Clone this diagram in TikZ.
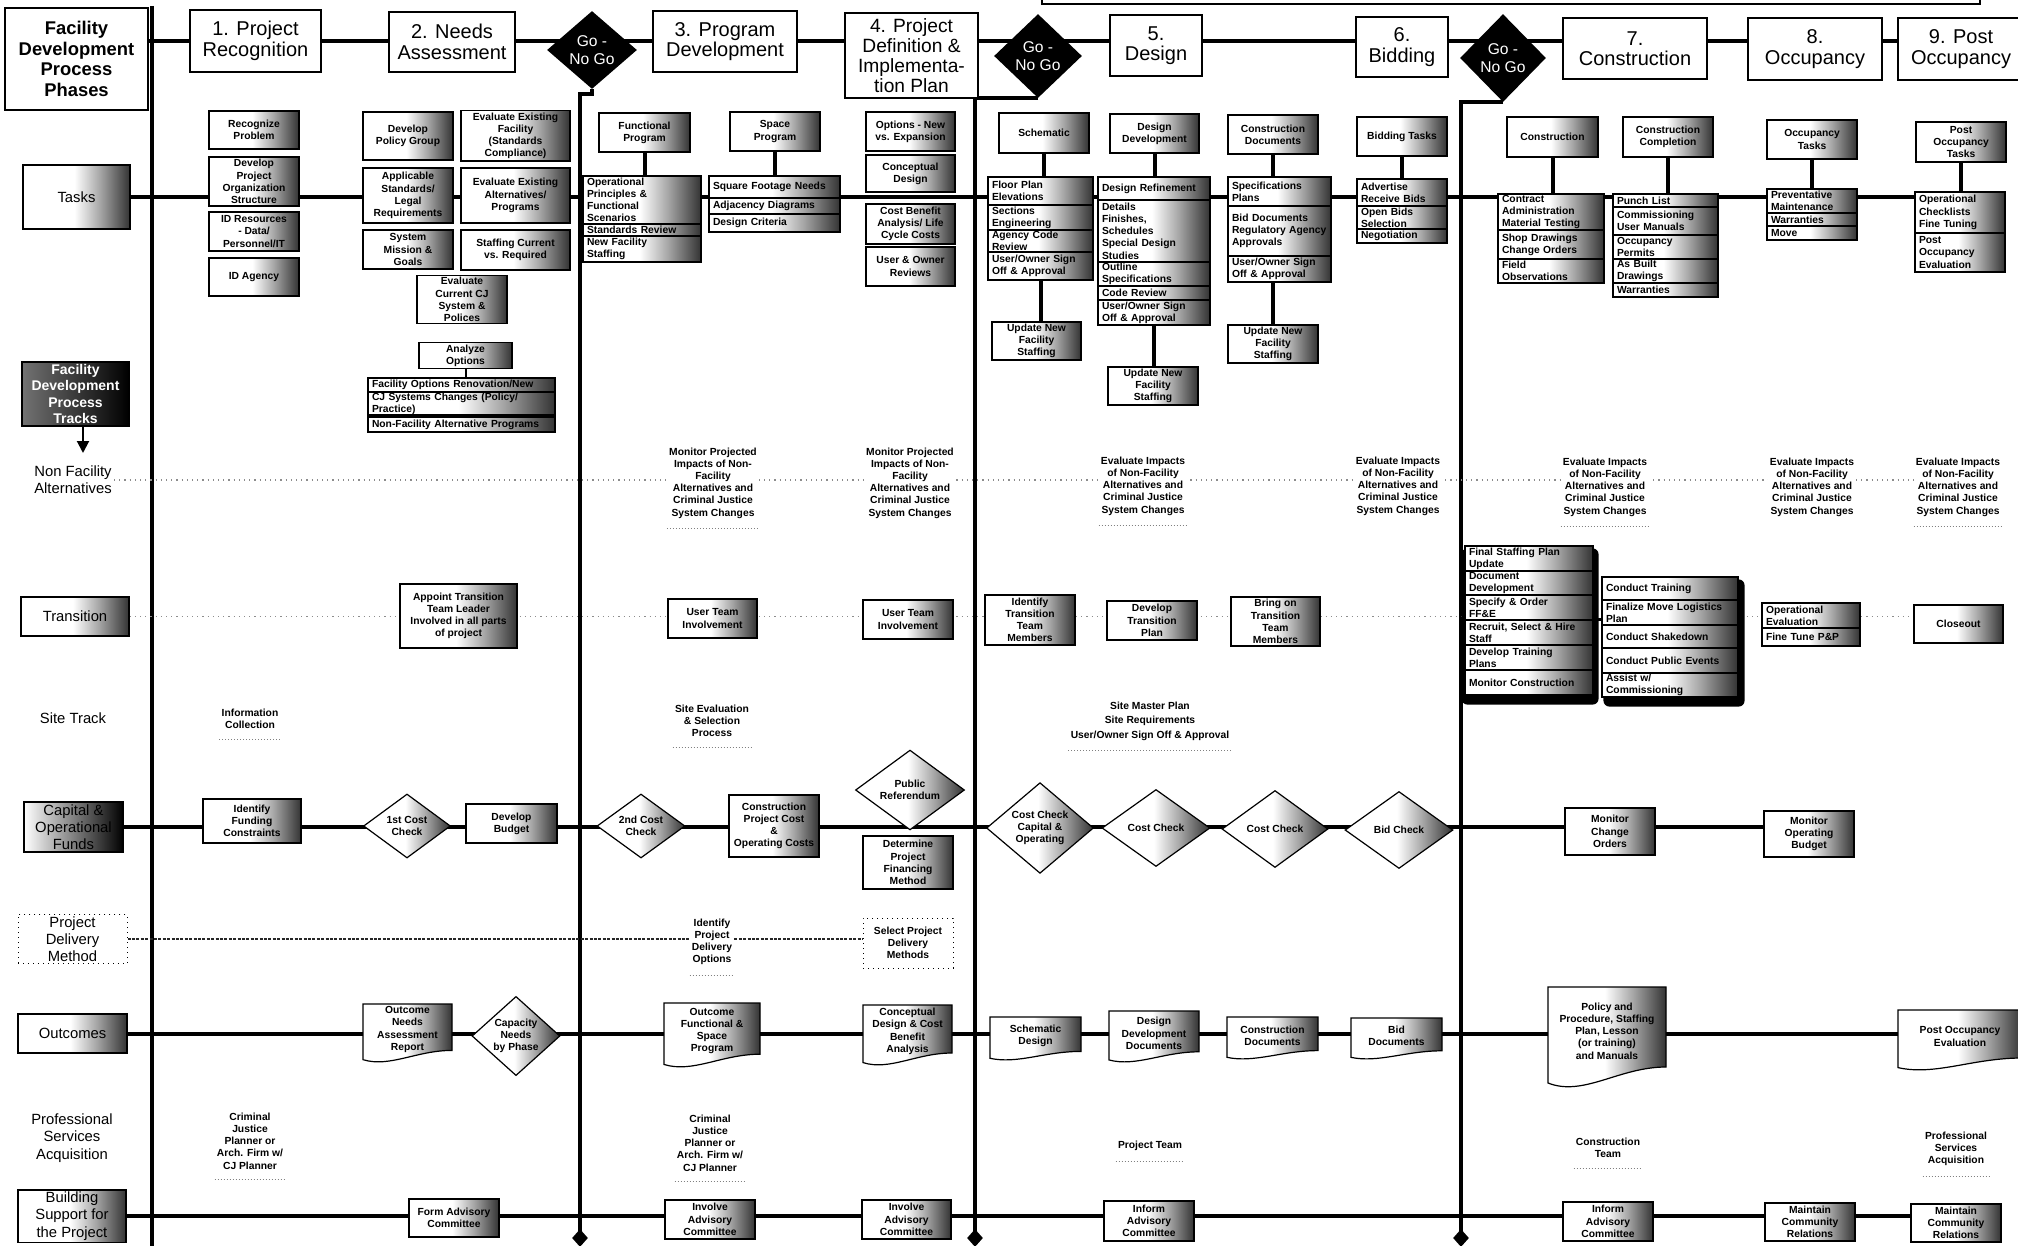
\documentclass[tikz,border=0pt]{standalone}
\usepackage{fontspec}
\setmainfont{Liberation Sans}
\usetikzlibrary{shapes.geometric,arrows.meta,calc}
\pgfdeclarelayer{bg}
\pgfsetlayers{bg,main}
\pgfdeclarehorizontalshading{gsh}{100bp}{color(0bp)=(white); color(25bp)=(white); color(49bp)=(white); color(61bp)=(black!35); color(75bp)=(black!80); color(100bp)=(black!80)}
\newcommand\fsm{\fontsize{5.15}{6.1}\selectfont\bfseries}
\newcommand\frow{\fontsize{7.4}{8.6}\selectfont}
\newcommand\fph{\fontsize{10}{10.2}\selectfont}
% box: [style]{name}{x1}{y1}{x2}{y2}{text}
\newcommand\bx[7][]{%
 \pgfmathsetmacro\gbw{(#5-#3)*0.5}%
 \pgfmathsetmacro\gbh{(#6-#4)*0.5}%
 \pgfmathsetmacro\gbtw{(#5-#3)*0.5-4}%
 \pgfmathsetmacro\gbx{(#3+#5)/2}%
 \pgfmathsetmacro\gby{(#4+#6)/2}%
 \node[minimum width=\gbw pt,minimum height=\gbh pt,#1] (#2) at (\gbx,\gby) {#7};}
% diamond: [style]{name}{cx}{cy}{w}{h}{text}
\newcommand\dg[7][]{%
 \pgfmathsetmacro\gbw{#5*0.5}%
 \pgfmathsetmacro\gbh{#6*0.5}%
 \node[#1,minimum width=\gbw pt,minimum height=\gbh pt] (#2) at (#3,#4) {#7};}
% document: {name}{x1}{y1}{x2}{y2}{text}
\newcommand\docn[6]{%
 \pgfmathsetmacro\dqh{#5-#3}%
 \pgfmathsetmacro\dqw{#4-#2}%
 \pgfmathsetmacro\dqyr{#5-0.2*\dqh}%
 \pgfmathsetmacro\dqyl{#5-0.04*\dqh}%
 \pgfmathsetmacro\dqax{#2+0.6*\dqw}%
 \pgfmathsetmacro\dqbx{#2+0.3*\dqw}%
 \pgfmathsetmacro\dqby{#5+0.1*\dqh}%
 \path[docshape] (#2,#3) -- (#4,#3) -- (#4,\dqyr) .. controls (\dqax,\dqyr) and (\dqbx,\dqby) .. (#2,\dqyl) -- cycle;
 \pgfmathsetmacro\gbw{\dqw*0.5}%
 \pgfmathsetmacro\gbh{\dqh*0.5}%
 \pgfmathsetmacro\gbx{(#2+#4)/2}%
 \pgfmathsetmacro\gby{(#3+#5)/2-0.06*\dqh}%
 \node[doctxt,minimum width=\gbw pt,minimum height=\gbh pt] (#1) at (\gbx,\gby) {#6};}
\tikzset{
 gbox/.style={draw=black, line width=0.6pt, shade, shading=gsh, inner sep=1pt, align=center, font=\fsm},
 litem/.style={align=left, text width=\gbtw pt, inner xsep=2pt, inner ysep=0pt},
 phbox/.style={draw=black, line width=1pt, fill=white, align=center, font=\fph, inner sep=1pt},
 gonogo/.style={diamond, fill=black, text=white, font=\fontsize{7.8}{8.8}\selectfont, align=center, inner sep=0pt},
 gdia/.style={diamond, draw=black, line width=0.6pt, shade, shading=gsh, inner sep=0pt, align=center, font=\fsm},
 ttext/.style={font=\fsm, align=center, fill=white, inner sep=1pt},
 rowtxt/.style={font=\frow, align=center, inner sep=1pt},
 mainln/.style={line width=2pt},
 conn/.style={line width=2pt},
 dotln/.style={black!45, line width=0.6pt, dotted},
 dashln/.style={black!85, line width=1.1pt, dash pattern=on 1.5pt off 0.7pt},
 uline/.style={black!50, line width=0.5pt, densely dotted},
 mk/.style={diamond, fill=black, minimum width=8pt, minimum height=9pt, inner sep=0pt},
 docshape/.style={draw=black, line width=0.6pt, shade, shading=gsh},
 doctxt/.style={font=\fsm, align=center, inner sep=0pt},
 pdmbox/.style={draw=black, line width=0.5pt, dotted, fill=white, align=center, inner sep=1pt},
}
\begin{document}
\begin{tikzpicture}[x=0.5pt,y=-0.5pt]
\useasboundingbox (0,0) rectangle (2018,1246);
\begin{pgfonlayer}{bg}
\fill[white] (0,0) rectangle (2018,1246);
\end{pgfonlayer}

% ---------------- header ----------------
\bx[phbox,font=\fontsize{9.2}{10.3}\selectfont\bfseries]{phases}{5}{8}{148}{110}{Facility\\Development\\Process\\Phases}
\bx[phbox]{p1}{190}{10}{321}{72}{1. Project\\Recognition}
\bx[phbox]{p2}{389}{12}{515}{72}{2. Needs\\Assessment}
\dg[gonogo]{d1}{592}{50}{90}{78}{Go -\\No Go}
\bx[phbox]{p3}{653}{11}{797}{72}{3. Program\\Development}
\bx[phbox,font=\fontsize{9.6}{10}\selectfont]{p4}{845}{13}{978}{98}{4. Project\\Definition \&\\Implementa-\\tion Plan}
\dg[gonogo]{d2}{1038}{56}{88}{84}{Go -\\No Go}
\bx[phbox]{p5}{1110}{15}{1202}{76}{5.\\Design}
\bx[phbox]{p6}{1356}{17}{1448}{77}{6.\\Bidding}
\dg[gonogo]{d3}{1503}{58}{86}{88}{Go -\\No Go}
\bx[phbox]{p7}{1563}{18}{1707}{79}{7.\\Construction}
\bx[phbox]{p8}{1748}{18}{1882}{80}{8.\\Occupancy}
\bx[phbox]{p9}{1898}{18}{2024}{80}{9. Post\\Occupancy}

% ---------------- row labels ----------------
\bx[gbox,font=\frow]{tasks}{23}{165}{130}{229}{Tasks}
\bx[gbox,left color=black!55,right color=black,text=white,font=\fontsize{7}{8.2}\selectfont\bfseries]{tracks}{22}{362}{129}{426}{Facility\\Development\\Process\\Tracks}
\node[rowtxt] (nfa) at (73,480) {Non Facility\\Alternatives};
\bx[gbox,font=\frow]{trans}{21}{597}{129}{636}{Transition}
\node[rowtxt] (site) at (73,718) {Site Track};
\bx[gbox,font=\frow,left color=white,right color=black]{cap}{24}{802}{123}{852}{Capital \&\\Operational\\Funds}
\bx[pdmbox,font=\frow]{pdm}{18}{915}{127}{963}{Project\\Delivery\\Method}
\bx[gbox,font=\frow]{outc}{18}{1014}{127}{1053}{Outcomes}
\node[rowtxt] (psa) at (72,1138) {Professional\\Services\\Acquisition};
\bx[gbox,font=\frow]{bsup}{18}{1192}{126}{1240}{Building\\Support for\\the Project}
\coordinate (arrtip) at (83,453);

% ---------------- tasks: phase 1 ----------------
\bx[gbox]{t1a}{209}{111}{299}{149}{Recognize\\Problem}
\bx[gbox]{t1b}{209}{157}{299}{206}{Develop\\Project\\Organization\\Structure}
\bx[gbox]{t1c}{209}{212}{299}{251}{ID Resources\\- Data/\\Personnel/IT}
\bx[gbox]{t1d}{209}{258}{299}{296}{ID Agency}
% phase 2
\bx[gbox]{t2a}{363}{112}{453}{160}{Develop\\Policy Group}
\bx[gbox]{t2b}{363}{168}{453}{223}{Applicable\\Standards/\\Legal\\Requirements}
\bx[gbox]{t2c}{363}{230}{453}{269}{System\\Mission \&\\Goals}
\bx[gbox]{t2d}{461}{112}{570}{160}{Evaluate Existing\\Facility\\(Standards\\Compliance)}
\bx[gbox]{t2e}{461}{168}{570}{223}{Evaluate Existing\\Alternatives/\\Programs}
\bx[gbox]{t2f}{461}{230}{570}{270}{Staffing Current\\vs. Required}
\bx[gbox]{t2g}{417}{276}{507}{323}{Evaluate\\Current CJ\\System \&\\Polices}
\bx[gbox]{t2h}{419}{343}{512}{368}{Analyze\\Options}
\bx[gbox,litem]{t2i}{368}{378}{555}{392}{Facility Options Renovation/New}
\bx[gbox,litem]{t2j}{368}{392}{555}{415}{CJ Systems Changes (Policy/\\Practice)}
\bx[gbox,litem]{t2k}{368}{417}{555}{432}{Non-Facility Alternative Programs}
% phase 3
\bx[gbox]{t3a}{599}{113}{690}{152}{Functional\\Program}
\bx[gbox,litem]{t3b}{583}{176}{701}{224}{Operational\\Principles \&\\Functional\\Scenarios}
\bx[gbox,litem]{t3c}{583}{224}{701}{236}{Standards Review}
\bx[gbox,litem]{t3d}{583}{236}{701}{262}{New Facility\\Staffing}
\bx[gbox]{t3e}{730}{112}{820}{151}{Space\\Program}
\bx[gbox,litem]{t3f}{709}{176}{840}{198}{Square Footage Needs}
\bx[gbox,litem]{t3g}{709}{198}{840}{214}{Adjacency Diagrams}
\bx[gbox,litem]{t3h}{709}{214}{840}{232}{Design Criteria}
% phase 4
\bx[gbox]{t4a}{866}{112}{955}{151}{Options - New\\vs. Expansion}
\bx[gbox]{t4b}{866}{155}{955}{192}{Conceptual\\Design}
\bx[gbox]{t4c}{866}{204}{955}{244}{Cost Benefit\\Analysis/ Life\\Cycle Costs}
\bx[gbox]{t4d}{866}{247}{955}{286}{User \& Owner\\Reviews}
% phase 5
\bx[gbox]{t5a}{999}{113}{1089}{153}{Schematic}
\bx[gbox,litem]{t5b}{988}{177}{1093}{205}{Floor Plan\\Elevations}
\bx[gbox,litem]{t5c}{988}{205}{1093}{230}{Sections\\Engineering}
\bx[gbox,litem]{t5d}{988}{230}{1093}{252}{Agency Code\\Review}
\bx[gbox,litem]{t5e}{988}{252}{1093}{280}{User/Owner Sign\\Off \& Approval}
\bx[gbox]{t5f}{992}{322}{1081}{360}{Update New\\Facility\\Staffing}
\bx[gbox]{t5g}{1110}{114}{1199}{153}{Design\\Development}
\bx[gbox,litem]{t5h}{1098}{177}{1210}{200}{Design Refinement}
\bx[gbox,litem]{t5i}{1098}{200}{1210}{262}{Details\\Finishes,\\Schedules\\Special Design\\Studies}
\bx[gbox,litem]{t5j}{1098}{262}{1210}{286}{Outline\\Specifications}
\bx[gbox,litem]{t5k}{1098}{286}{1210}{300}{Code Review}
\bx[gbox,litem]{t5l}{1098}{300}{1210}{325}{User/Owner Sign\\Off \& Approval}
\bx[gbox]{t5m}{1108}{367}{1198}{405}{Update New\\Facility\\Staffing}
\bx[gbox]{t5n}{1228}{115}{1318}{154}{Construction\\Documents}
\bx[gbox,litem]{t5o}{1228}{177}{1331}{206}{Specifications\\Plans}
\bx[gbox,litem]{t5p}{1228}{206}{1331}{256}{Bid Documents\\Regulatory Agency\\Approvals}
\bx[gbox,litem]{t5q}{1228}{256}{1331}{282}{User/Owner Sign\\Off \& Approval}
\bx[gbox]{t5r}{1228}{325}{1318}{363}{Update New\\Facility\\Staffing}
% phase 6
\bx[gbox]{t6a}{1357}{117}{1447}{156}{Bidding Tasks}
\bx[gbox,litem]{t6b}{1357}{179}{1447}{206}{Advertise\\Receive Bids}
\bx[gbox,litem]{t6c}{1357}{206}{1447}{229}{Open Bids\\Selection}
\bx[gbox,litem]{t6d}{1357}{229}{1447}{243}{Negotiation}
% phase 7
\bx[gbox]{t7a}{1507}{117}{1598}{157}{Construction}
\bx[gbox,litem]{t7b}{1498}{194}{1604}{230}{Contract\\Administration\\Material Testing}
\bx[gbox,litem]{t7c}{1498}{230}{1604}{259}{Shop Drawings\\Change Orders}
\bx[gbox,litem]{t7d}{1498}{259}{1604}{283}{Field\\Observations}
\bx[gbox]{t7e}{1623}{117}{1713}{157}{Construction\\Completion}
\bx[gbox,litem]{t7f}{1613}{194}{1718}{207}{Punch List}
\bx[gbox,litem]{t7g}{1613}{207}{1718}{235}{Commissioning\\User Manuals}
\bx[gbox,litem]{t7h}{1613}{235}{1718}{259}{Occupancy\\Permits}
\bx[gbox,litem]{t7i}{1613}{259}{1718}{283}{As Built\\Drawings}
\bx[gbox,litem]{t7j}{1613}{283}{1718}{297}{Warranties}
% phase 8
\bx[gbox]{t8a}{1767}{120}{1857}{159}{Occupancy\\Tasks}
\bx[gbox,litem]{t8b}{1767}{189}{1857}{213}{Preventative\\Maintenance}
\bx[gbox,litem]{t8c}{1767}{213}{1857}{226}{Warranties}
\bx[gbox,litem]{t8d}{1767}{226}{1857}{240}{Move}
% phase 9
\bx[gbox]{t9a}{1916}{122}{2006}{162}{Post\\Occupancy\\Tasks}
\bx[gbox,litem]{t9b}{1915}{192}{2005}{233}{Operational\\Checklists\\Fine Tuning}
\bx[gbox,litem]{t9c}{1915}{233}{2005}{272}{Post\\Occupancy\\Evaluation}

% ---------------- non facility alternatives ----------------
\node[ttext] (nf3) at (713,483) {Monitor Projected\\Impacts of Non-\\Facility\\Alternatives and\\Criminal Justice\\System Changes};
\node[ttext] (nf4) at (910,483) {Monitor Projected\\Impacts of Non-\\Facility\\Alternatives and\\Criminal Justice\\System Changes};
\node[ttext] (nf5) at (1143,486) {Evaluate Impacts\\of Non-Facility\\Alternatives and\\Criminal Justice\\System Changes};
\node[ttext] (nf6) at (1398,486) {Evaluate Impacts\\of Non-Facility\\Alternatives and\\Criminal Justice\\System Changes};
\node[ttext] (nf7) at (1605,487) {Evaluate Impacts\\of Non-Facility\\Alternatives and\\Criminal Justice\\System Changes};
\node[ttext] (nf8) at (1812,487) {Evaluate Impacts\\of Non-Facility\\Alternatives and\\Criminal Justice\\System Changes};
\node[ttext] (nf9) at (1958,487) {Evaluate Impacts\\of Non-Facility\\Alternatives and\\Criminal Justice\\System Changes};

% ---------------- transition ----------------
\bx[gbox]{tr2}{400}{584}{517}{648}{Appoint Transition\\Team Leader\\Involved in all parts\\of project}
\bx[gbox]{tr3}{668}{599}{757}{638}{User Team\\Involvement}
\bx[gbox]{tr4}{863}{600}{953}{639}{User Team\\Involvement}
\bx[gbox]{tr5}{985}{595}{1075}{645}{Identify\\Transition\\Team\\Members}
\bx[gbox]{tr6}{1107}{601}{1197}{640}{Develop\\Transition\\Plan}
\bx[gbox]{tr7}{1231}{597}{1320}{646}{Bring on\\Transition\\Team\\Members}
\bx[gbox,litem]{ta1}{1465}{546}{1593}{571}{Final Staffing Plan\\Update}
\bx[gbox,litem]{ta2}{1465}{571}{1593}{595}{Document\\Development}
\bx[gbox,litem]{ta3}{1465}{595}{1593}{620}{Specify \& Order\\FF\&E}
\bx[gbox,litem]{ta4}{1465}{620}{1593}{645}{Recruit, Select \& Hire\\Staff}
\bx[gbox,litem]{ta5}{1465}{645}{1593}{670}{Develop Training\\Plans}
\bx[gbox,litem]{ta6}{1465}{670}{1593}{695}{Monitor Construction}
\bx[gbox,litem]{tb1}{1602}{577}{1738}{600}{Conduct Training}
\bx[gbox,litem]{tb2}{1602}{600}{1738}{625}{Finalize Move Logistics\\Plan}
\bx[gbox,litem]{tb3}{1602}{625}{1738}{648}{Conduct Shakedown}
\bx[gbox,litem]{tb4}{1602}{648}{1738}{673}{Conduct Public Events}
\bx[gbox,litem]{tb5}{1602}{673}{1738}{697}{Assist w/\\Commissioning}
\bx[gbox,litem]{tr8a}{1762}{603}{1860}{628}{Operational\\Evaluation}
\bx[gbox,litem]{tr8b}{1762}{628}{1860}{646}{Fine Tune P\&P}
\bx[gbox]{tr9}{1914}{605}{2003}{643}{Closeout}

% ---------------- site track ----------------
\node[ttext] (st1) at (250,719) {Information\\Collection};
\node[ttext] (st3) at (712,721) {Site Evaluation\\\& Selection\\Process};
\node[ttext,font=\fontsize{5.15}{7.3}\selectfont\bfseries] (st5) at (1150,721) {Site Master Plan\\Site Requirements\\User/Owner Sign Off \& Approval};

% ---------------- capital & operational funds ----------------
\bx[gbox]{c1}{203}{799}{301}{843}{Identify\\Funding\\Constraints}
\dg[gdia]{cd1}{407}{826}{87}{64}{1st Cost\\Check}
\bx[gbox]{c2}{466}{804}{557}{843}{Develop\\Budget}
\dg[gdia]{cd2}{641}{826}{88}{64}{2nd Cost\\Check}
\bx[gbox]{c3}{729}{795}{819}{857}{Construction\\Project Cost\\\&\\Operating Costs}
\dg[gdia]{pref}{910}{790}{109}{54}{Public\\Referendum}
\bx[gbox]{c4}{863}{836}{953}{889}{Determine\\Project\\Financing\\Method}
\dg[gdia]{cd3}{1040}{828}{107}{77}{Cost Check\\Capital \&\\Operating}
\dg[gdia]{cd4}{1156}{828}{108}{77}{Cost Check}
\dg[gdia]{cd5}{1275}{829}{106}{77}{Cost Check}
\dg[gdia]{cd6}{1399}{830}{108}{77}{Bid Check}
\bx[gbox]{c5}{1565}{808}{1655}{855}{Monitor\\Change\\Orders}
\bx[gbox]{c6}{1764}{811}{1854}{857}{Monitor\\Operating\\Budget}

% ---------------- project delivery method ----------------
\node[ttext] (pd3) at (712,942) {Identify\\Project\\Delivery\\Options};
\bx[pdmbox,font=\fsm]{pd4}{863}{918}{953}{968}{Select Project\\Delivery\\Methods}

% ---------------- outcomes ----------------
\docn{o1}{363}{1004}{452}{1062}{Outcome\\Needs\\Assessment\\Report}
\dg[gdia]{od}{516}{1036}{88}{68}{Capacity\\Needs\\by Phase}
\docn{o2}{664}{1003}{760}{1067}{Outcome\\Functional \&\\Space\\Program}
\docn{o3}{863}{1005}{952}{1065}{Conceptual\\Design \& Cost\\Benefit\\Analysis}
\docn{o4}{990}{1017}{1081}{1060}{Schematic\\Design}
\docn{o5}{1109}{1011}{1199}{1062}{Design\\Development\\Documents}
\docn{o6}{1227}{1017}{1318}{1059}{Construction\\Documents}
\docn{o7}{1351}{1018}{1442}{1059}{Bid\\Documents}
\docn{o8}{1548}{987}{1666}{1087}{Policy and\\Procedure, Staffing\\Plan, Lesson\\(or training)\\and Manuals}
\docn{o9}{1898}{1010}{2022}{1070}{Post Occupancy\\Evaluation}

% ---------------- professional services ----------------
\node[ttext] (ps1) at (250,1141) {Criminal\\Justice\\Planner or\\Arch. Firm w/\\CJ Planner};
\node[ttext] (ps3) at (710,1143) {Criminal\\Justice\\Planner or\\Arch. Firm w/\\CJ Planner};
\node[ttext] (ps5) at (1150,1146) {Project Team};
\node[ttext] (ps7) at (1608,1148) {Construction\\Team};
\node[ttext] (ps9) at (1956,1149) {Professional\\Services\\Acquisition};

% ---------------- building support ----------------
\bx[gbox]{b2}{409}{1199}{499}{1237}{Form Advisory\\Committee}
\bx[gbox]{b3}{665}{1200}{755}{1239}{Involve\\Advisory\\Committee}
\bx[gbox]{b4}{862}{1200}{951}{1239}{Involve\\Advisory\\Committee}
\bx[gbox]{b5}{1104}{1201}{1194}{1241}{Inform\\Advisory\\Committee}
\bx[gbox]{b7}{1563}{1202}{1653}{1241}{Inform\\Advisory\\Committee}
\bx[gbox]{b8}{1765}{1203}{1855}{1241}{Maintain\\Community\\Relations}
\bx[gbox]{b9}{1911}{1204}{2001}{1242}{Maintain\\Community\\Relations}

% ---------------- vertical phase lines ----------------
\coordinate (v1t) at (152,6);
\coordinate (v1b) at (152,1246);
\node[mk] (m2) at (580,1238) {};
\node[mk] (m3) at (975,1238) {};
\node[mk] (m4) at (1461,1238) {};

\begin{pgfonlayer}{bg}
% top strip
\draw[line width=0.8pt] (1042,0) |- (1980,4) -- (1980,0);
% verticals
\draw[mainln] (v1t) -- (v1b);
\draw[mainln] (d1.south) -- ++(0,5) -| (m2.center);
\draw[mainln] (d2.south) -| (m3.center);
\draw[mainln] (d3.south) -| (m4.center);
% header line
\draw[mainln,line width=2.4pt] (phases.east |- p1.east) -- (p9.west |- p1.east);
% row lines
\draw[mainln,line width=1.6pt] (tasks.east) -- (tasks.east -| t9b.west);
\draw[dotln] (nfa.east) -- (nfa.east -| nf9.west);
\draw[dotln] (trans.east) -- (trans.east -| tr9.west);
\draw[mainln] (cap.east) -- (cap.east -| c6.west);
\draw[dashln] (pdm.east) -- (pdm.east -| pd3.west);
\draw[dashln] (pd3.east |- pdm.east) -- (pdm.east -| pd4.west);
\draw[mainln] (outc.east) -- (outc.east -| o9.west);
\draw[mainln] (bsup.east) -- (bsup.east -| b9.west);
% tracks arrow
\draw[line width=1pt,-{Triangle[width=6pt,length=6pt]}] (arrtip |- tracks.south) -- (arrtip);
% shadows of phase 7 transition lists
\fill[black,rounded corners=3pt] ($(ta1.north west)+(-3,3)$) rectangle ($(ta6.south east)+(5,9)$);
\fill[black,rounded corners=3pt] ($(tb1.north west)+(2,3)$) rectangle ($(tb5.south east)+(6,9)$);
\end{pgfonlayer}

% task connectors
\draw[conn] (t3a.south) -- (t3a.south |- t3b.north);
\draw[conn] (t3e.south) -- (t3e.south |- t3f.north);
\draw[conn] (t5a.south) -- (t5a.south |- t5b.north);
\draw[conn] (t5e.south) -- (t5e.south |- t5f.north);
\draw[conn] (t5g.south) -- (t5g.south |- t5h.north);
\draw[conn] (t5l.south) -- (t5l.south |- t5m.north);
\draw[conn] (t5n.south) -- (t5n.south |- t5o.north);
\draw[conn] (t5r.north |- t5q.south) -- (t5r.north);
\draw[conn] (t6a.south) -- (t6a.south |- t6b.north);
\draw[conn] (t7a.south) -- (t7a.south |- t7b.north);
\draw[conn] (t7e.south) -- (t7e.south |- t7f.north);
\draw[conn] (t8a.south) -- (t8a.south |- t8b.north);
\draw[conn] (t9a.south) -- (t9a.south |- t9b.north);
\draw[line width=1pt] (t2h.south) -- (t2h.south |- t2i.north);
\draw[line width=1.6pt] (ta4.north east) -- (ta4.north east -| tb2.west);

% underlines
\foreach \n in {nf3,nf5,nf7,nf9,st1,st3,st5,pd3,ps1,ps3,ps5,ps7,ps9}
  \draw[uline] ([yshift=-4pt]\n.south west) -- ([yshift=-4pt]\n.south east);
\end{tikzpicture}
\end{document}
